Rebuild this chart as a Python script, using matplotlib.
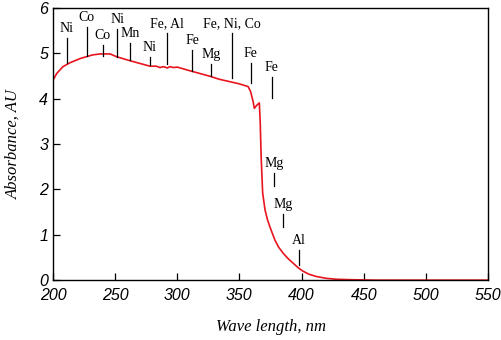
import matplotlib
matplotlib.use('Agg')
import matplotlib.pyplot as plt

# absorbance spectrum
wave = [200, 203, 208, 214, 222, 227, 232, 238, 246, 251, 262, 270, 278, 283, 286, 289, 292,
        294, 297, 300, 305, 310, 318, 326, 334, 342, 350, 357, 359, 361, 362, 364, 366, 366.7,
        367.5, 368.7, 370.6, 372.5, 374.6, 378.6, 381.5, 385, 389, 393, 397, 401, 406, 412,
        420, 428, 440, 460, 500, 550]
absorb = [4.41, 4.56, 4.71, 4.80, 4.89, 4.93, 4.97, 4.99, 4.99, 4.93, 4.84, 4.78, 4.72, 4.72,
          4.69, 4.71, 4.68, 4.71, 4.69, 4.70, 4.66, 4.62, 4.56, 4.50, 4.43, 4.38, 4.33, 4.27,
          4.16, 3.94, 3.79, 3.86, 3.91, 3.5, 2.7, 1.92, 1.55, 1.34, 1.17, 0.88, 0.73, 0.60,
          0.48, 0.38, 0.28, 0.20, 0.13, 0.08, 0.04, 0.02, 0.01, 0.0, 0.0, 0.0]

# element markers: label, wavelength, line bottom, line top
peak_names = ['Ni', 'Co', 'Co', 'Ni', 'Mn', 'Ni', 'Fe, Al', 'Fe', 'Mg', 'Fe, Ni, Co',
              'Fe', 'Fe', 'Mg', 'Mg', 'Al']
peak_wave = [211, 227, 240, 251.7, 262, 278, 292, 312, 327, 344, 359, 376, 378, 385, 398]
line_lo = [4.79, 4.94, 4.94, 4.92, 4.86, 4.75, 4.77, 4.61, 4.50, 4.46, 4.35, 4.02, 2.07, 1.17, 0.33]
line_hi = [5.34, 5.59, 5.19, 5.54, 5.23, 4.92, 5.45, 5.08, 4.77, 5.45, 4.79, 4.48, 2.36, 1.46, 0.66]

fig = plt.figure(figsize=(5.02, 3.4), dpi=100)
ax = fig.add_axes([0.1056, 0.176, 0.8665, 0.8])

ax.plot(wave, absorb, color='#e8141e', linewidth=1.2)

for name, x, lo, hi in zip(peak_names, peak_wave, line_lo, line_hi):
    ax.plot([x, x], [lo, hi], color='k', linewidth=0.9)
    ax.text(x, hi + 0.07, name, ha='center', va='bottom', fontsize=10,
            family='Liberation Serif')

ax.set_xlim(200, 550)
ax.set_ylim(0, 6)
ax.set_xticks(range(200, 551, 50))
ax.set_yticks(range(0, 7))
ax.tick_params(direction='in', length=5, width=0.9)
for lab in ax.get_xticklabels() + ax.get_yticklabels():
    lab.set_family('Liberation Sans')
    lab.set_style('italic')
    lab.set_fontsize(11.5)
ax.tick_params(axis='x', pad=6)
ax.set_xlabel('Wave length, nm', family='Liberation Serif', style='italic', fontsize=12,
              labelpad=11)
ax.set_ylabel('Absorbance, AU', family='Liberation Serif', style='italic', fontsize=12,
              labelpad=13)
for s in ax.spines.values():
    s.set_linewidth(1.0)

fig.savefig('out.png', dpi=100)
